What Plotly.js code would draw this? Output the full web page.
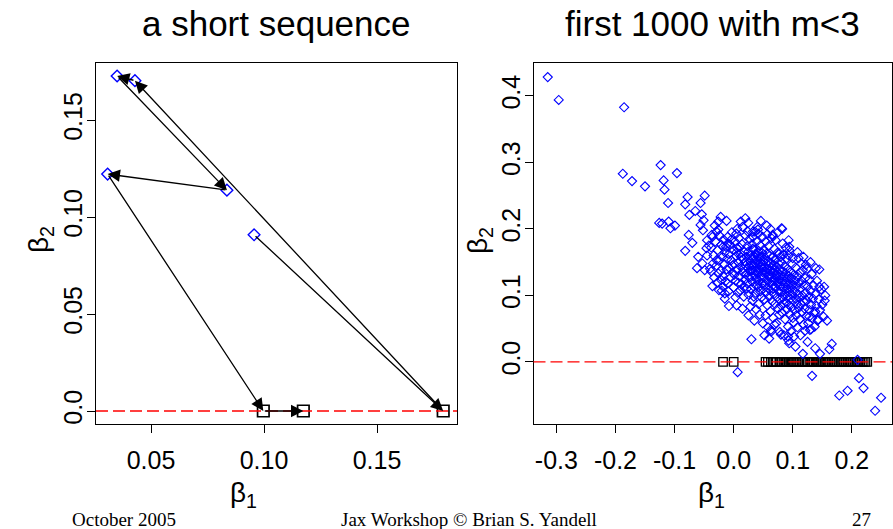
<!DOCTYPE html>
<html>
<head>
<meta charset="utf-8">
<script src="https://cdn.plot.ly/plotly-3.0.1.min.js"></script>
<style>html,body{margin:0;padding:0;background:#fff;}#chart{width:893px;height:529px;}</style>
</head>
<body>
<div id="chart"></div>
<script>
// ---- Left panel: a short MCMC sequence (in visiting order) ----
var seqB1 = [0.0956, 0.1793, 0.0429, 0.0350, 0.0836, 0.0308, 0.0997, 0.1174];
var seqB2 = [0.0909, 0.0000, 0.1704, 0.1728, 0.1139, 0.1222, 0.0000, 0.0000];

// ---- Right panel: first 1000 with m<3 ----
// outlying diamonds
var outB1 = [-0.3146,-0.296,-0.1854,-0.1876,-0.172,-0.150,-0.1236,-0.1185,-0.117,-0.096,
  -0.111,-0.126,-0.121,-0.110,-0.107,-0.0994,-0.078,-0.082,-0.075,-0.065,
  -0.056,-0.049,-0.054,-0.051,-0.056,-0.052,-0.076,-0.070,-0.082,-0.060,
  -0.062,-0.053,-0.049,-0.036,-0.038,-0.035,-0.046,-0.045,-0.037,-0.029,
  -0.022,-0.012,-0.026,-0.008,-0.015,-0.018,-0.021,-0.026,-0.029,-0.018,
  -0.010,0.0045,0.012,0.0197,0.0247,0.0326,0.040,0.0416,0.066,0.081,
  0.093,0.094,0.0775,0.110,0.122,0.1449,0.153,0.145,0.154,0.158,
  0.143,0.131,0.128,0.138,0.146,0.166,0.162,0.117,0.1045,0.094,
  0.092,0.080,0.030,0.0494,0.0635,0.2096,0.0067,0.1326,0.212,0.1787,
  0.1927,0.2197,0.2494,0.2393,0.138];
var outB2 = [0.4284,0.394,0.383,0.283,0.272,0.264,0.296,0.273,0.259,0.284,
  0.239,0.209,0.208,0.211,0.201,0.205,0.248,0.237,0.221,0.227,
  0.239,0.250,0.222,0.213,0.206,0.198,0.191,0.179,0.167,0.158,
  0.141,0.148,0.138,0.114,0.136,0.148,0.171,0.183,0.191,0.196,
  0.218,0.212,0.211,0.084,0.103,0.113,0.123,0.133,0.153,0.173,
  0.178,0.193,0.211,0.216,0.209,0.196,0.203,0.193,0.191,0.201,
  0.183,0.173,0.163,0.156,0.146,0.139,0.113,0.113,0.092,0.062,
  0.064,0.049,0.068,0.0205,0.012,0.027,0.019,0.012,0.023,0.028,
  0.038,0.041,0.034,0.058,0.0455,0.003,-0.0155,-0.021,-0.0245,-0.0506,
  -0.0435,-0.0395,-0.054,-0.0736,0.0756];

// dense central cloud of diamonds
var cloudB1 = [
 -0.038,-0.034,-0.031,-0.029,-0.027,-0.025,-0.024,-0.022,-0.021,-0.019,
 -0.018,-0.017,-0.016,-0.015,-0.014,-0.013,-0.012,-0.011,-0.010,-0.010,
 -0.033,-0.028,-0.020,-0.036,-0.026,
 -0.008,-0.007,-0.006,-0.005,-0.004,-0.003,-0.002,-0.001,0.000,0.001,
 0.002,0.003,0.004,0.005,0.006,0.007,0.008,0.009,0.010,0.011,
 0.012,0.013,0.014,0.015,0.016,0.017,0.018,0.019,0.020,0.020,
 -0.009,-0.004,0.003,0.006,0.011,0.015,0.018,0.001,0.008,0.013,
 -0.002,0.010,0.016,0.005,0.019,
 0.021,0.022,0.023,0.023,0.024,0.025,0.025,0.026,0.027,0.027,
 0.028,0.029,0.029,0.030,0.031,0.031,0.032,0.032,0.033,0.034,
 0.034,0.035,0.036,0.036,0.037,0.037,0.038,0.039,0.039,0.040,
 0.040,0.041,0.042,0.042,0.043,0.043,0.044,0.045,0.045,0.046,
 0.046,0.047,0.047,0.048,0.048,0.049,0.050,0.050,0.024,0.028,
 0.033,0.038,0.041,0.044,0.049,0.026,0.030,0.035,0.040,0.045,
 0.022,0.032,0.037,0.042,0.047,0.034,0.039,0.044,0.048,0.031,
 0.051,0.051,0.052,0.052,0.053,0.053,0.054,0.054,0.055,0.055,
 0.056,0.056,0.057,0.057,0.058,0.058,0.059,0.059,0.060,0.060,
 0.061,0.061,0.062,0.062,0.063,0.063,0.064,0.064,0.065,0.065,
 0.066,0.066,0.067,0.067,0.068,0.068,0.069,0.069,0.070,0.070,
 0.071,0.071,0.072,0.072,0.073,0.073,0.074,0.074,0.075,0.075,
 0.076,0.076,0.077,0.077,0.078,0.078,0.079,0.079,0.080,0.080,
 0.057,0.062,0.066,0.071,0.058,0.063,0.069,0.054,0.060,0.065,
 0.070,0.075,0.056,0.067,0.073,
 0.081,0.081,0.082,0.082,0.083,0.083,0.084,0.084,0.085,0.085,
 0.086,0.086,0.087,0.087,0.088,0.088,0.089,0.089,0.090,0.090,
 0.091,0.091,0.092,0.092,0.093,0.093,0.094,0.094,0.095,0.095,
 0.096,0.096,0.097,0.097,0.098,0.098,0.099,0.099,0.100,0.100,
 0.101,0.102,0.102,0.103,0.103,0.104,0.105,0.105,0.106,0.106,
 0.107,0.108,0.108,0.109,0.110,0.110,0.083,0.088,0.093,0.100,
 0.111,0.112,0.112,0.113,0.114,0.114,0.115,0.116,0.116,0.117,
 0.118,0.118,0.119,0.120,0.121,0.121,0.122,0.123,0.124,0.124,
 0.125,0.126,0.127,0.128,0.128,0.129,0.130,0.131,0.132,0.133,
 0.134,0.135,0.136,0.137,0.138,0.140,0.141,0.142,0.144,0.146,
 0.148,0.150,0.152,0.155,0.139,
 -0.045,-0.042,-0.040,-0.032,-0.025,-0.015,0.005,0.015,0.025,0.035,
 0.052,0.060,0.078,0.085,0.093,0.102,0.113,0.125,0.118,0.108,
 0.130,0.056,0.046,0.075,0.082];
var cloudB2 = [
 0.172,0.160,0.181,0.145,0.168,0.152,0.190,0.137,0.176,0.158,
 0.129,0.184,0.147,0.165,0.121,0.173,0.139,0.155,0.188,0.118,
 0.127,0.119,0.107,0.188,0.199,
 0.162,0.141,0.176,0.127,0.153,0.195,0.134,0.168,0.112,0.147,
 0.181,0.122,0.159,0.139,0.171,0.104,0.150,0.186,0.128,0.163,
 0.143,0.117,0.177,0.135,0.155,0.098,0.166,0.124,0.145,0.190,
 0.106,0.184,0.097,0.200,0.108,0.203,0.112,0.131,0.119,0.157,
 0.145,0.172,0.140,0.165,0.150,
 0.132,0.158,0.118,0.174,0.141,0.101,0.166,0.127,0.152,0.185,
 0.136,0.109,0.160,0.145,0.121,0.177,0.092,0.138,0.155,0.113,
 0.169,0.131,0.148,0.196,0.104,0.162,0.125,0.143,0.181,0.116,
 0.153,0.134,0.087,0.167,0.122,0.147,0.139,0.106,0.175,0.129,
 0.158,0.097,0.144,0.118,0.164,0.135,0.151,0.110,0.196,0.083,
 0.188,0.079,0.199,0.071,0.188,0.145,0.128,0.158,0.137,0.149,
 0.110,0.170,0.137,0.112,0.126,0.098,0.162,0.157,0.141,0.146,
 0.127,0.169,0.142,0.094,0.157,0.116,0.134,0.181,0.105,0.148,
 0.123,0.163,0.139,0.085,0.152,0.111,0.130,0.174,0.098,0.145,
 0.119,0.160,0.136,0.076,0.149,0.107,0.127,0.186,0.091,0.141,
 0.115,0.157,0.133,0.066,0.146,0.102,0.122,0.170,0.087,0.138,
 0.112,0.153,0.128,0.058,0.143,0.097,0.118,0.164,0.080,0.134,
 0.106,0.148,0.124,0.071,0.139,0.093,0.114,0.158,0.085,0.130,
 0.192,0.200,0.189,0.183,0.052,0.048,0.056,0.070,0.128,0.122,
 0.125,0.120,0.140,0.110,0.131,
 0.106,0.150,0.121,0.074,0.136,0.097,0.112,0.161,0.088,0.128,
 0.103,0.144,0.118,0.064,0.133,0.090,0.109,0.155,0.079,0.124,
 0.099,0.140,0.115,0.053,0.129,0.086,0.105,0.168,0.072,0.120,
 0.095,0.135,0.111,0.046,0.126,0.082,0.101,0.147,0.066,0.116,
 0.092,0.131,0.059,0.107,0.078,0.122,0.095,0.142,0.070,0.113,
 0.087,0.128,0.052,0.102,0.081,0.119,0.178,0.172,0.160,0.156,
 0.096,0.134,0.064,0.110,0.086,0.148,0.122,0.075,0.100,0.138,
 0.091,0.056,0.115,0.080,0.126,0.047,0.104,0.069,0.140,0.092,
 0.113,0.058,0.098,0.124,0.078,0.048,0.107,0.086,0.132,0.066,
 0.095,0.115,0.074,0.053,0.102,0.084,0.122,0.062,0.094,0.078,
 0.109,0.086,0.068,0.100,0.141,
 0.160,0.175,0.140,0.205,0.108,0.095,0.085,0.080,0.070,0.062,
 0.040,0.035,0.045,0.040,0.032,0.038,0.040,0.030,0.158,0.165,
 0.150,0.205,0.212,0.195,0.200];

// squares: draws with no second effect (beta2 = 0)
var zeroB1 = [-0.018,0.000,0.054,0.058,0.063,0.066,0.071,0.073,0.078,0.081,
  0.084,0.088,0.090,0.093,0.097,0.100,0.102,0.106,0.109,0.111,
  0.115,0.118,0.121,0.124,0.126,0.130,0.133,0.135,0.139,0.142,
  0.145,0.147,0.151,0.154,0.157,0.160,0.163,0.166,0.169,0.172,
  0.175,0.178,0.181,0.184,0.187,0.190,0.193,0.196,0.199,0.202,
  0.205,0.208,0.211,0.214,0.217,0.220,0.223,0.226];

var xTicksL = [0.05, 0.10, 0.15];
var xTickTextL = ["0.05", "0.10", "0.15"];
var yTicksL = [0.0, 0.05, 0.10, 0.15];
var yTickTextL = ["0.0", "0.05", "0.10", "0.15"];
var xTicksR = [-0.3, -0.2, -0.1, 0.0, 0.1, 0.2];
var xTickTextR = ["-0.3", "-0.2", "-0.1", "0.0", "0.1", "0.2"];
var yTicksR = [0.0, 0.1, 0.2, 0.3, 0.4];
var yTickTextR = ["0.0", "0.1", "0.2", "0.3", "0.4"];

// ---------------- build ----------------
var W = 893, H = 529;
function px(x) { return x / W; }
function py(y) { return 1 - y / H; }

var dB1 = [], dB2 = [], sB1 = [], sB2 = [];
for (var i = 0; i < seqB1.length; i++) {
  if (seqB2[i] === 0) { sB1.push(seqB1[i]); sB2.push(seqB2[i]); }
  else { dB1.push(seqB1[i]); dB2.push(seqB2[i]); }
}
var zeroB2 = zeroB1.map(function () { return 0; });
var allB1 = outB1.concat(cloudB1);
var allB2 = outB2.concat(cloudB2);

var traces = [
  { x: sB1, y: sB2, xaxis: 'x', yaxis: 'y', type: 'scatter', mode: 'markers',
    marker: { symbol: 'square-open', size: 11.5, color: 'black', line: { width: 1.7, color: 'black' } } },
  { x: dB1, y: dB2, xaxis: 'x', yaxis: 'y', type: 'scatter', mode: 'markers',
    marker: { symbol: 'diamond-open', size: 9, color: '#0000ff', line: { width: 1.4, color: '#0000ff' } } },
  { x: zeroB1, y: zeroB2, xaxis: 'x2', yaxis: 'y2', type: 'scatter', mode: 'markers',
    marker: { symbol: 'square-open', size: 8.5, color: 'black', line: { width: 1.3, color: 'black' } } },
  { x: allB1, y: allB2, xaxis: 'x2', yaxis: 'y2', type: 'scatter', mode: 'markers',
    marker: { symbol: 'diamond-open', size: 7, color: '#0000ff', line: { width: 1.1, color: '#0000ff' } } }
];

var tickFont = { family: 'Liberation Sans, Arial, sans-serif', size: 25, color: 'black' };
function axisBase(extra) {
  var a = { showgrid: false, zeroline: false, showline: true, mirror: true, linecolor: 'black',
    linewidth: 1, ticks: 'outside', ticklen: 8, tickwidth: 1, tickcolor: 'black',
    tickfont: tickFont, tickmode: 'array', fixedrange: true };
  for (var k in extra) a[k] = extra[k];
  return a;
}

var annotations = [];
for (var j = 0; j < seqB1.length - 1; j++) {
  annotations.push({ x: seqB1[j + 1], y: seqB2[j + 1], ax: seqB1[j], ay: seqB2[j],
    xref: 'x', yref: 'y', axref: 'x', ayref: 'y', text: '', showarrow: true,
    arrowhead: 2, arrowsize: 1.9, arrowwidth: 1.3, arrowcolor: 'black', standoff: 0, startstandoff: 0 });
}
var titleFont = { family: 'Liberation Sans, Arial, sans-serif', size: 35, color: 'black' };
var labFont = { family: 'Liberation Sans, Arial, sans-serif', size: 28, color: 'black' };
var footFont = { family: 'Liberation Serif, Times New Roman, serif', size: 19, color: 'black' };
function note(text, x, y, font, extra) {
  var a = { text: text, x: px(x), y: py(y), xref: 'paper', yref: 'paper', showarrow: false,
    font: font, xanchor: 'center', yanchor: 'middle' };
  for (var k in extra) a[k] = extra[k];
  annotations.push(a);
}
note('a short sequence', 276, 24, titleFont);
note('first 1000 with m&lt;3', 712, 24, titleFont);
note('β<sub>1</sub>', 244, 494, labFont);
note('β<sub>1</sub>', 711, 494, labFont);
note('β<sub>2</sub>', 40, 240, labFont, { textangle: -90 });
note('β<sub>2</sub>', 479, 240, labFont, { textangle: -90 });
note('October 2005', 70, 519, footFont, { xanchor: 'left' });
note('Jax Workshop © Brian S. Yandell', 469, 519, footFont);
note('27', 873, 519, footFont, { xanchor: 'right' });

var layout = {
  width: W, height: H, margin: { l: 0, r: 0, t: 0, b: 0 },
  paper_bgcolor: 'white', plot_bgcolor: 'white', showlegend: false,
  xaxis: axisBase({ domain: [px(96), px(457)], range: [0.02566, 0.1854], tickvals: xTicksL, ticktext: xTickTextL, anchor: 'y', ticklabelstandoff: 6 }),
  yaxis: axisBase({ domain: [py(424), py(63)], range: [-0.0067, 0.1795], tickvals: yTicksL, ticktext: yTickTextL, tickangle: -90, anchor: 'x', ticklabelstandoff: -5 }),
  xaxis2: axisBase({ domain: [px(533.5), px(892)], range: [-0.3387, 0.2679], tickvals: xTicksR, ticktext: xTickTextR, anchor: 'y2', ticklabelstandoff: 6 }),
  yaxis2: axisBase({ domain: [py(424), py(63)], range: [-0.0935, 0.4496], tickvals: yTicksR, ticktext: yTickTextR, tickangle: -90, anchor: 'x2', ticklabelstandoff: -5 }),
  shapes: [
    { type: 'line', xref: 'x domain', yref: 'y', x0: 0, x1: 1, y0: 0, y1: 0, layer: 'above',
      line: { color: 'red', width: 1.3, dash: '12px,5px' } },
    { type: 'line', xref: 'x2 domain', yref: 'y2', x0: 0, x1: 1, y0: 0, y1: 0, layer: 'above',
      line: { color: 'red', width: 1.2, dash: '12px,5px' } }
  ],
  annotations: annotations
};

Plotly.newPlot('chart', traces, layout, { staticPlot: true, displayModeBar: false });
</script>
</body>
</html>
